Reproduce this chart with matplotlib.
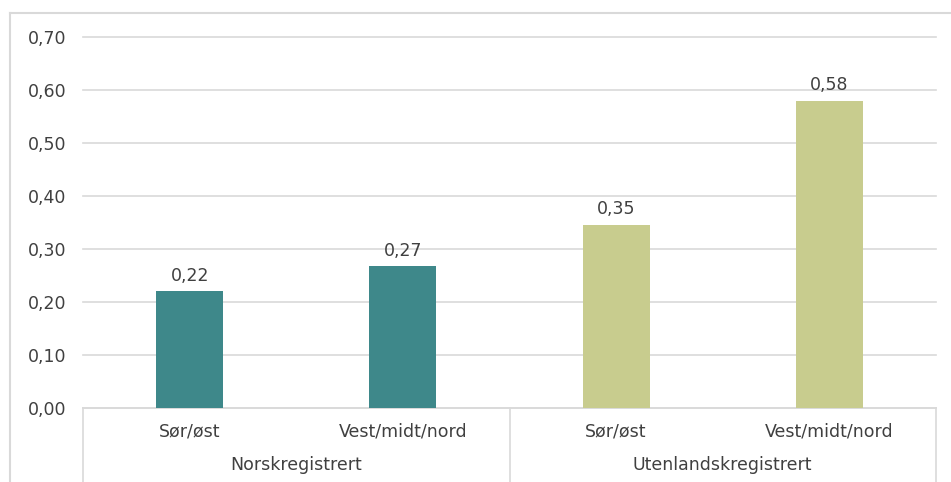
import matplotlib.pyplot as plt
from matplotlib.lines import Line2D

# data
regions = ["Sør/øst", "Vest/midt/nord", "Sør/øst", "Vest/midt/nord"]
groups = ["Norskregistrert", "Utenlandskregistrert"]
values = [0.22, 0.267, 0.346, 0.58]
bar_colors = ["#3e888a", "#3e888a", "#c8cc8e", "#c8cc8e"]
yticks = [0.0, 0.1, 0.2, 0.3, 0.4, 0.5, 0.6, 0.7]

W, H = 951, 482
fig = plt.figure(figsize=(W / 100, H / 100), dpi=100)
plt.rcParams['font.family'] = ['DejaVu Sans']
txt = "#404040"
grid = "#d9d9d9"
fs = 12.5

# plot area in pixels
x0, x1 = 83, 936
ytop, ybot = 37, 408
ax = fig.add_axes([x0 / W, (H - ybot) / H, (x1 - x0) / W, (ybot - ytop) / H])


def fx(px):
    return px / W


def fy(py):
    return (H - py) / H


x = list(range(len(values)))
ax.bar(x, values, width=0.315, color=bar_colors, zorder=3)
for xi, v in zip(x, values):
    ax.text(xi, v + 0.012, f"{v:.2f}".replace(".", ","), ha="center", va="bottom",
            fontsize=fs, color=txt)

ax.set_xlim(-0.5, len(values) - 0.5)
ax.set_ylim(0, 0.70)
ax.set_yticks(yticks)
ax.set_yticklabels([f"{t:.2f}".replace(".", ",") for t in yticks], fontsize=fs, color=txt)
ax.tick_params(axis="y", length=0, pad=12)
ax.set_xticks([])
ax.grid(axis="y", color=grid, lw=1.2, zorder=0, clip_on=False)
for s in ["top", "right", "left"]:
    ax.spines[s].set_visible(False)
ax.spines["bottom"].set_color(grid)
ax.spines["bottom"].set_linewidth(1.2)

# category labels, two levels
cw = (x1 - x0) / len(values)
for i, r in enumerate(regions):
    fig.text(fx(x0 + cw * (i + 0.5)), fy(432), r, ha="center", va="center", fontsize=fs, color=txt)
for j, g in enumerate(groups):
    fig.text(fx(x0 + cw * (2 * j + 1)), fy(465), g, ha="center", va="center", fontsize=fs, color=txt)
for k in range(3):
    px = x0 + cw * 2 * k
    fig.add_artist(Line2D([fx(px), fx(px)], [fy(ybot), fy(H + 2)], color=grid, lw=1.2))

# chart frame
fig.add_artist(Line2D([fx(10), fx(10)], [fy(13), fy(H + 2)], color=grid, lw=1.5))
fig.add_artist(Line2D([fx(10), fx(W + 2)], [fy(13), fy(13)], color=grid, lw=1.5))

fig.savefig("out.png", dpi=100)
